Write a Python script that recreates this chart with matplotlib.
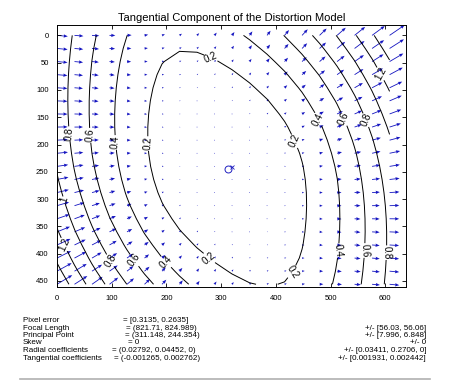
import numpy as np
import matplotlib
matplotlib.use("Agg")
from matplotlib import pyplot as plt

plt.rcParams['font.family'] = ['Liberation Sans', 'DejaVu Sans']

# calibration results (as printed under the plot) ·················
nx, ny = 640, 480
fc = [821.71, 824.989]
cc = [311.148, 244.354]
kc_tang = [-0.001265, 0.002762]

labels = ["Pixel error", "Focal Length", "Principal Point", "Skew",
          "Radial coefficients", "Tangential coefficients"]
values = ["= [0.3135, 0.2635]", "= (821.71, 824.989)",
          "= (311.148, 244.354)", "= 0", "= (0.02792, 0.04452, 0)",
          "= (-0.001265, 0.002762)"]
errors = ["", "+/- [56.03, 56.06]", "+/- [7.996, 6.848]", "+/- 0",
          "+/- [0.03411, 0.2706, 0]", "+/- [0.001931, 0.002442]"]

# where the contour labels sit (approx, data coords)
label_spots = [(288, 24), (22, 180), (61, 183), (108, 196), (169, 198),
               (439, 192), (481, 152), (527, 152), (563, 156), (596, 68),
               (7, 303), (9, 385), (99, 412), (141, 412), (193, 421),
               (275, 412), (426, 430), (510, 394), (560, 394), (598, 398)]

# tangential part of the distortion model on a 20x20 grid ·········
mx, my = np.meshgrid(np.arange(0, nx, nx / 20), np.arange(0, ny, ny / 20))
xn = (mx - cc[0]) / fc[0]
yn = (my - cc[1]) / fc[1]
r2 = xn**2 + yn**2
p1, p2 = kc_tang
dxn = 2 * p1 * xn * yn + p2 * (r2 + 2 * xn**2)
dyn = p1 * (r2 + 2 * yn**2) + 2 * p2 * xn * yn
dx = dxn * fc[0]
dy = dyn * fc[1]
dr = np.sqrt(dx**2 + dy**2)

fig = plt.figure(figsize=(4.62, 3.85), dpi=100)
ax = fig.add_axes([57 / 462, 1 - 287 / 385, 349 / 462, 262 / 385])

asc = 21
ax.quiver(mx, my, dx * asc, dy * asc, angles='xy', scale_units='xy',
          scale=1, color='#1414c0', width=0.0024, headwidth=4,
          headlength=5, headaxislength=4.5)
ax.plot(cc[0] + 1, cc[1] + 1, 'o', mfc='none', mec='#2020c0', ms=5, mew=0.7)
ax.plot((nx - 1) / 2 + 1, (ny - 1) / 2 + 1, 'x', color='#2020c0', ms=3.5, mew=0.6)

cs = ax.contour(mx, my, dr, levels=np.arange(0.2, 2.0, 0.2), colors='k',
                linewidths=0.7)
ax.clabel(cs, fmt='%g', fontsize=7, inline=True, inline_spacing=1,
          manual=label_spots)

ax.set_xlim(0, 638)
ax.set_ylim(461, -19)
ax.set_xticks(np.arange(0, 601, 100))
ax.set_yticks(np.arange(0, 451, 50))
ax.tick_params(direction='in', top=True, right=True, labelsize=5.5,
               length=3, width=0.6, pad=6)
for s in ax.spines.values():
    s.set_linewidth(0.7)
ax.set_title('Tangential Component of the Distortion Model', fontsize=8,
             pad=3)

# text block ······················································
ys = [320, 328, 335.5, 343, 351, 359]
xeq = [123, 126, 125, 128, 112, 114]
for lab, val, err, y, xe in zip(labels, values, errors, ys, xeq):
    fig.text(23 / 462, 1 - y / 385, lab, fontsize=5.8, va='center')
    fig.text(xe / 462, 1 - y / 385, val, fontsize=5.8, va='center')
    if err:
        fig.text(426 / 462, 1 - y / 385, err, fontsize=5.8, va='center',
                 ha='right')

fig.add_artist(plt.Line2D([20 / 462, 430 / 462], [1 - 379 / 385] * 2,
                          color='#b0b0b0', lw=1.2))

fig.savefig('out.png', dpi=100)
plt.close()
